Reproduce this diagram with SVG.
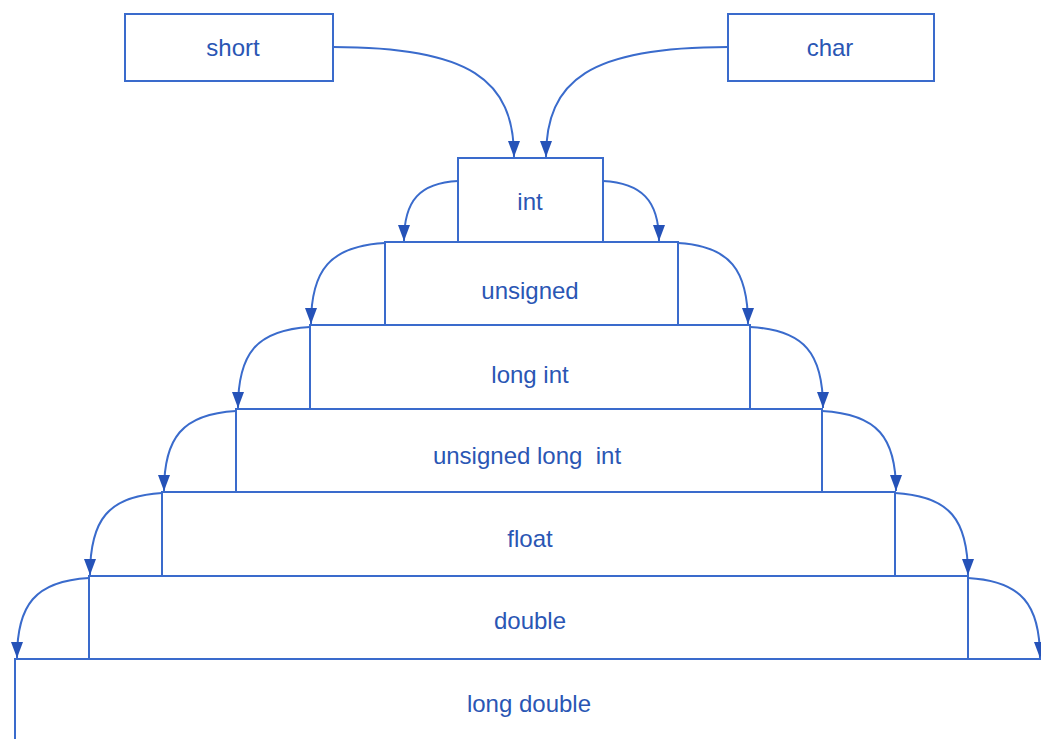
<svg xmlns="http://www.w3.org/2000/svg" width="1041" height="739" viewBox="0 0 1041 739">
<defs>
<marker id="ah" markerUnits="userSpaceOnUse" markerWidth="16" markerHeight="12" viewBox="0 0 16 12" refX="16" refY="6" orient="auto">
<path d="M0,0 L16,6 L0,12 Z" fill="#2552b8"/>
</marker>
<style>
.box{fill:#ffffff;stroke:#3a6bcc;stroke-width:2}
.lbl{font-family:"Liberation Sans",Arial,sans-serif;font-size:24px;fill:#2a56b4;text-anchor:middle;dominant-baseline:central}
.edge{fill:none;stroke:#3a6bcc;stroke-width:2}
</style>
</defs>
<rect width="1041" height="739" fill="#ffffff"/>
<g id="node-long-double"><rect class="box" x="15" y="659" width="1040" height="100"/><text class="lbl" x="529" y="703">long double</text></g>
<g id="node-double"><rect class="box" x="89" y="576" width="879" height="83"/><text class="lbl" x="530" y="620">double</text></g>
<g id="node-float"><rect class="box" x="162" y="492" width="733" height="84"/><text class="lbl" x="530" y="538">float</text></g>
<g id="node-unsigned-long-int"><rect class="box" x="236" y="409" width="586" height="83"/><text class="lbl" x="527" y="455" xml:space="preserve">unsigned long  int</text></g>
<g id="node-long-int"><rect class="box" x="310" y="325" width="440" height="84"/><text class="lbl" x="530" y="374">long int</text></g>
<g id="node-unsigned"><rect class="box" x="385" y="242" width="293" height="83"/><text class="lbl" x="530" y="290">unsigned</text></g>
<g id="node-int"><rect class="box" x="458" y="158" width="145" height="84"/><text class="lbl" x="530" y="201">int</text></g>
<g id="node-short"><rect class="box" x="125" y="14" width="208" height="67"/><text class="lbl" x="233" y="47">short</text></g>
<g id="node-char"><rect class="box" x="728" y="14" width="206" height="67"/><text class="lbl" x="830" y="47">char</text></g>
<g id="connectors">
<path class="edge" marker-end="url(#ah)" d="M333,47 C470,47 514,80 514,157"/>
<path class="edge" marker-end="url(#ah)" d="M728,47 C590,47 546,80 546,157"/>
<path class="edge" marker-end="url(#ah)" d="M458,181 C420,183 404,200 404,241"/>
<path class="edge" marker-end="url(#ah)" d="M603,181 C641,183 659,200 659,241"/>
<path class="edge" marker-end="url(#ah)" d="M385,243 C330,246 311,270 311,324"/>
<path class="edge" marker-end="url(#ah)" d="M678,243 C730,246 748,270 748,324"/>
<path class="edge" marker-end="url(#ah)" d="M310,327 C256,330 238,354 238,408"/>
<path class="edge" marker-end="url(#ah)" d="M750,327 C805,330 823,354 823,408"/>
<path class="edge" marker-end="url(#ah)" d="M236,411 C182,414 164,438 164,491"/>
<path class="edge" marker-end="url(#ah)" d="M822,411 C878,414 896,438 896,491"/>
<path class="edge" marker-end="url(#ah)" d="M162,493 C108,496 90,520 90,575"/>
<path class="edge" marker-end="url(#ah)" d="M895,493 C950,496 968,520 968,575"/>
<path class="edge" marker-end="url(#ah)" d="M89,578 C35,581 17,605 17,658"/>
<path class="edge" marker-end="url(#ah)" d="M968,578 C1022,581 1040,605 1040,658"/>
</g>
</svg>
